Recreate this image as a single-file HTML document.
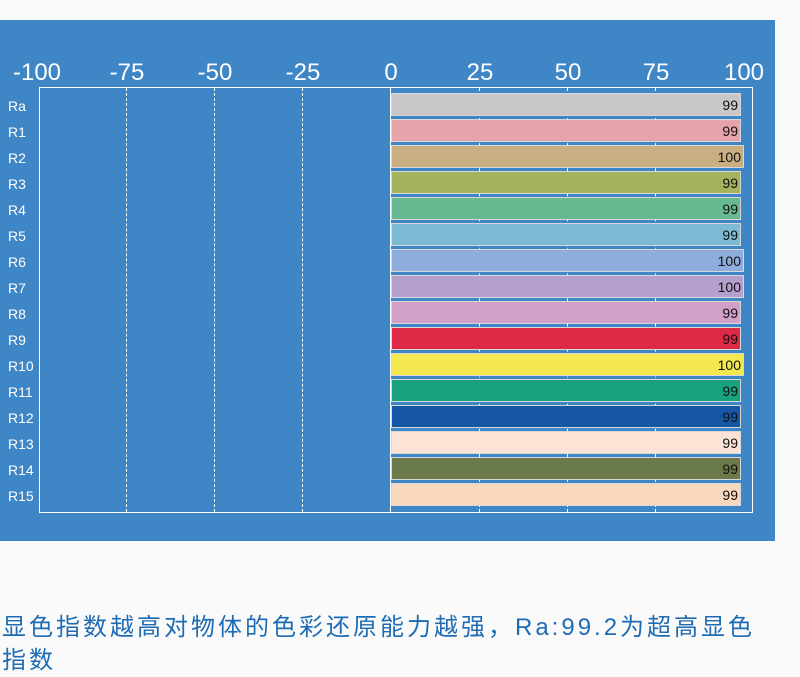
<!DOCTYPE html>
<html><head><meta charset="utf-8"><style>
body{margin:0;width:800px;height:676px;background:#fafafa;position:relative;overflow:hidden;font-family:"Liberation Sans",sans-serif}
#p{position:absolute;left:0;top:20px;width:775px;height:521px;background:#3f86c6}
.t{position:absolute;top:59px;color:#fff;font-size:24px;transform:translateX(-50%)}
#box{position:absolute;left:39px;top:87px;width:712px;height:424px;border:1px solid #fff;box-sizing:content-box}
.g{position:absolute;top:88px;height:424px;border-left:1px dashed #fff}
.l{position:absolute;left:8px;color:#fff;font-size:14px}
.b{position:absolute;left:391px;height:20px;border:1px solid #d8d8d8;text-align:right;font-size:14px;line-height:22px;color:#111;padding-right:2px;box-sizing:border-box}
.c{position:absolute;left:2px;color:#1e6cb4;font-size:24px;letter-spacing:3px;font-family:"Liberation Sans","Noto Sans CJK SC",sans-serif;line-height:32px;white-space:nowrap}
</style></head><body>
<div id="p"></div>
<div class="t" style="left:37px">-100</div>
<div class="t" style="left:127px">-75</div>
<div class="t" style="left:215px">-50</div>
<div class="t" style="left:303px">-25</div>
<div class="t" style="left:391px">0</div>
<div class="t" style="left:480px">25</div>
<div class="t" style="left:568px">50</div>
<div class="t" style="left:656px">75</div>
<div class="t" style="left:744px">100</div>
<div id="box"></div>
<div class="g" style="left:126px"></div>
<div class="g" style="left:214px"></div>
<div class="g" style="left:302px"></div>
<div class="g" style="left:390px;border-left:1px solid #fff"></div>
<div class="g" style="left:479px"></div>
<div class="g" style="left:567px"></div>
<div class="g" style="left:655px"></div>
<div id="rows"></div>
<script>
var d=[["Ra","#c8c8c8",99],["R1","#e4a4aa",99],["R2","#c9ad83",100],["R3","#a4b35e",99],["R4","#68b991",99],["R5","#7bbbd5",99],["R6","#8eaddc",100],["R7","#b59fcc",100],["R8","#d19fc7",99],["R9","#db2946",99],["R10","#f4e851",100],["R11","#17a27d",99],["R12","#1657a5",99],["R13","#fde3d6",99],["R14","#6b7a4a",99],["R15","#f8d8bf",99]];
var h="";d.forEach(function(r,i){var y=93+i*26;
h+='<div class="l" style="top:'+(y+5)+'px">'+r[0]+'</div>';
h+='<div class="b" style="top:'+y+'px;height:23px;width:'+(r[2]==100?353:350)+'px;background:'+r[1]+'">'+r[2]+'</div>';});
document.getElementById("rows").innerHTML=h;
</script>
<div class="c" style="top:612px">显色指数越高对物体的色彩还原能力越强，Ra:99.2为超高显色</div>
<div class="c" style="top:645px">指数</div>
</body></html>
